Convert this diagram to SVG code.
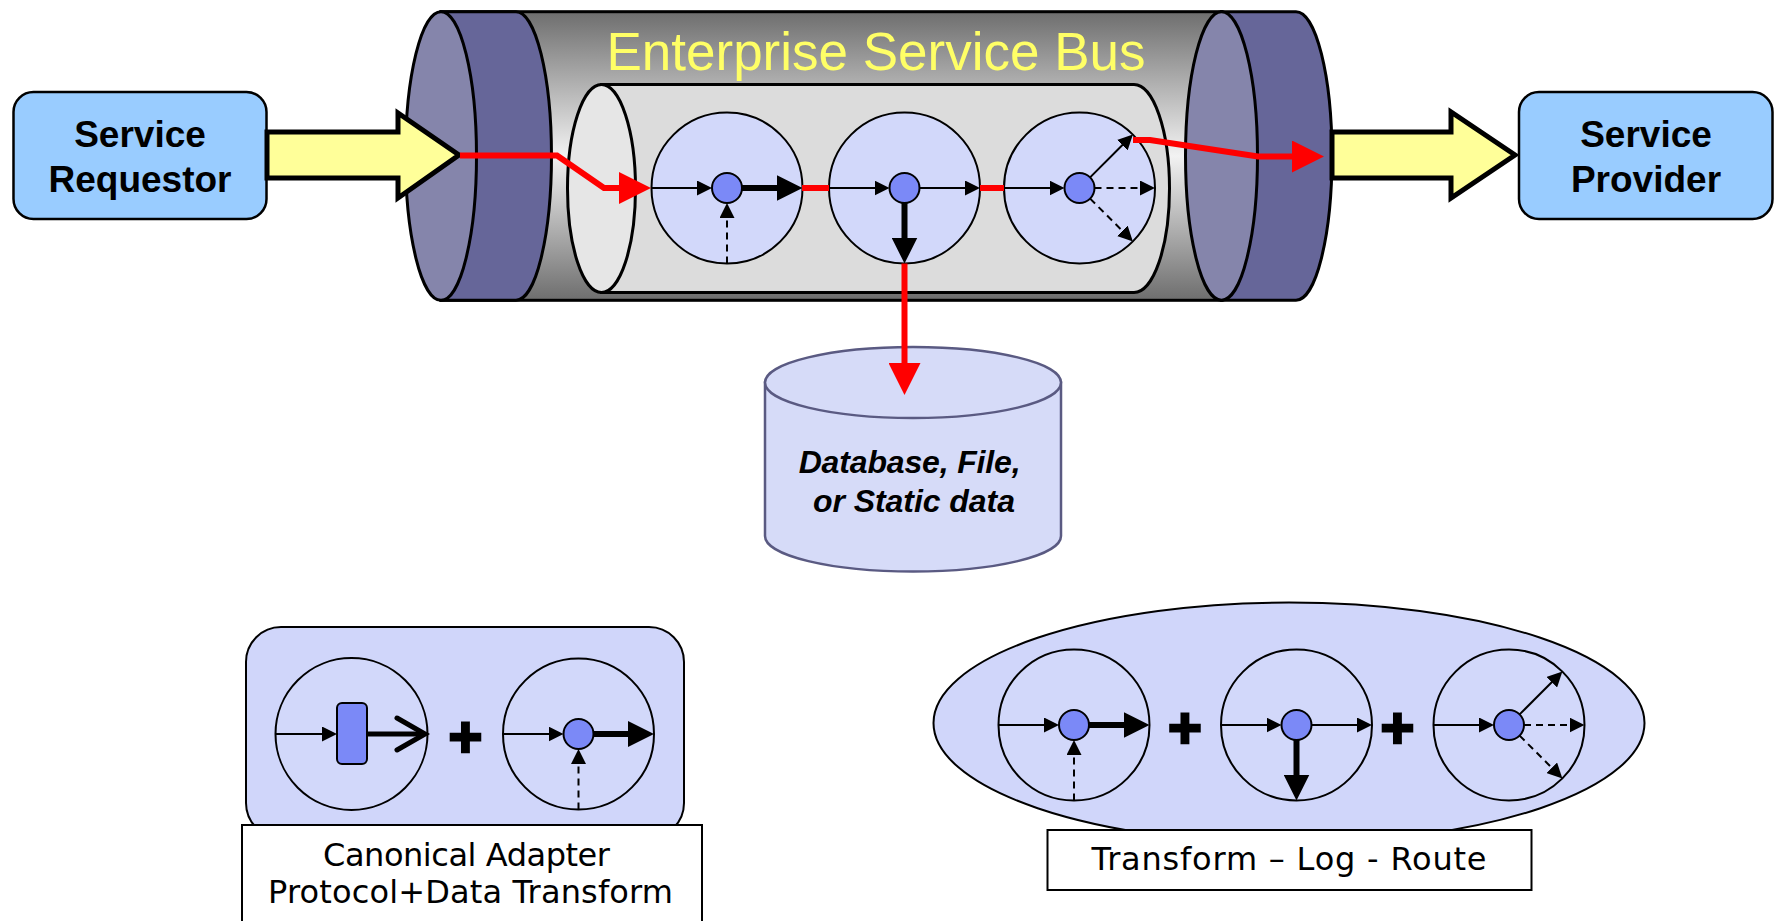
<svg xmlns="http://www.w3.org/2000/svg" width="1776" height="921" viewBox="0 0 1776 921">
  <style>
    .box { fill: #99ccff; stroke: #000; stroke-width: 2.5; }
    .boxtxt { font-family: "Liberation Sans", Arial, sans-serif; font-weight: bold; font-size: 37px; text-anchor: middle; fill: #000; }
    .op { fill: #d2d8fa; stroke: #000; stroke-width: 2; }
    .dot { fill: #7b89f7; stroke: #000; stroke-width: 2; }
    .thin { stroke: #000; stroke-width: 2; fill: none; marker-end: url(#ah); }
    .dash { stroke: #000; stroke-width: 2; fill: none; stroke-dasharray: 7 5; marker-end: url(#ah); }
    .thick { stroke: #000; stroke-width: 6; fill: none; marker-end: url(#ahBig); }
    .flow { stroke: #ff0000; stroke-width: 6; fill: none; stroke-linejoin: miter; }
    .flowEnd { marker-end: url(#ahRed); }
    .fat { fill: #ffff99; stroke: #000; stroke-width: 5; stroke-linejoin: miter; }
    .rimBand { fill: #666699; stroke: #000; stroke-width: 3; }
    .rimFace { fill: #8585ab; stroke: #000; stroke-width: 3; }
    .group { fill: #d0d6fa; stroke: #000; stroke-width: 2; }
    .label { fill: #fff; stroke: #000; stroke-width: 2; }
    .labeltxt { font-family: "DejaVu Sans", Verdana, sans-serif; font-size: 32px; text-anchor: middle; fill: #000; }
    .plus { font-family: "Liberation Sans", Arial, sans-serif; font-weight: bold; font-size: 58px; text-anchor: middle; fill: #000; stroke: #000; stroke-width: 2.5; }
  </style>
  <defs>
    <linearGradient id="busShade" x1="0" y1="0" x2="0" y2="1">
      <stop offset="0" stop-color="#6e6e6e"/>
      <stop offset="0.5" stop-color="#f2f2f2"/>
      <stop offset="1" stop-color="#6e6e6e"/>
    </linearGradient>
    <marker id="ah" viewBox="0 0 15 15" refX="2" refY="7.5" markerWidth="15" markerHeight="15" orient="auto" markerUnits="userSpaceOnUse">
      <path d="M0,0 L15,7.5 L0,15 z" fill="#000"/>
    </marker>
    <marker id="ahBig" viewBox="0 0 26 26" refX="2" refY="13" markerWidth="26" markerHeight="26" orient="auto" markerUnits="userSpaceOnUse">
      <path d="M0,0 L26,13 L0,26 z" fill="#000"/>
    </marker>
    <marker id="ahRed" viewBox="0 0 32 32" refX="3" refY="16" markerWidth="32" markerHeight="32" orient="auto" markerUnits="userSpaceOnUse">
      <path d="M0,0 L32,16 L0,32 z" fill="#ff0000"/>
    </marker>
    <!-- mediation operations, drawn around (0,0) -->
    <g id="opTransform">
      <circle class="op" r="75.5"/>
      <path class="thin" d="M-75.5,0 L-28,0"/>
      <path class="thick" d="M15,0 L51.5,0"/>
      <path class="dash" d="M0,75.5 L0,28"/>
      <circle class="dot" r="15"/>
    </g>
    <g id="opLog">
      <circle class="op" r="75.5"/>
      <path class="thin" d="M-75.5,0 L-28,0"/>
      <path class="thin" d="M15,0 L62.5,0"/>
      <path class="thick" d="M0,15 L0,51.5"/>
      <circle class="dot" r="15"/>
    </g>
    <g id="opRoute">
      <circle class="op" r="75.5"/>
      <path class="thin" d="M-75.5,0 L-28,0"/>
      <path class="thin" d="M10.6,-10.6 L44.2,-44.2"/>
      <path class="dash" d="M15,0 L62.5,0"/>
      <path class="dash" d="M10.6,10.6 L44.2,44.2"/>
      <circle class="dot" r="15"/>
    </g>
  </defs>

  <rect width="1776" height="921" fill="#fff"/>

  <!-- Enterprise Service Bus pipe -->
  <g id="esb">
    <rect x="441" y="11.7" width="781" height="288.6" fill="url(#busShade)" stroke="#000" stroke-width="3"/>
    <text x="876" y="70" font-family="'Liberation Sans', Arial, sans-serif" font-size="53" text-anchor="middle" fill="#ffff66">Enterprise Service Bus</text>
    <path d="M601.5,84.5 L1134,84.5 A35.5,104 0 0 1 1134,292.5 L601.5,292.5 Z" fill="#dcdcdc" stroke="#000" stroke-width="3"/>
    <ellipse cx="601.5" cy="188.5" rx="34" ry="104" fill="#e6e6e6" stroke="#000" stroke-width="3"/>
    <g id="esb-transform"><use href="#opTransform" x="727" y="188"/></g>
    <g id="esb-log"><use href="#opLog" x="904.5" y="188"/></g>
    <g id="esb-route"><use href="#opRoute" x="1079.5" y="188"/></g>
    <path class="rimBand" d="M441,11.7 L516,11.7 A35.5,144.3 0 0 1 516,300.3 L441,300.3 Z"/>
    <ellipse class="rimFace" cx="441" cy="156" rx="35.5" ry="144.3"/>
    <path class="rimBand" d="M1221.5,11.7 L1296,11.7 A36,144.3 0 0 1 1296,300.3 L1221.5,300.3 Z"/>
    <ellipse class="rimFace" cx="1221.5" cy="156" rx="36" ry="144.3"/>
  </g>

  <!-- data store -->
  <g id="database">
    <path d="M765,382.5 L765,536 A148,35.5 0 0 0 1061,536 L1061,382.5 Z" fill="#d6dbf8" stroke="#5a5a82" stroke-width="2.5"/>
    <ellipse cx="913" cy="382.5" rx="148" ry="35.5" fill="#d6dbf8" stroke="#5a5a82" stroke-width="2.5"/>
    <text font-family="'Liberation Sans', Arial, sans-serif" font-weight="bold" font-style="italic" font-size="32" text-anchor="middle" fill="#000">
      <tspan x="914" y="473" textLength="222">Database, File,</tspan>
      <tspan x="914" y="512" textLength="202">or Static data</tspan>
    </text>
  </g>

  <g id="requestor">
    <rect class="box" x="13.5" y="92" width="253" height="127" rx="20"/>
    <text class="boxtxt"><tspan x="140" y="146.5">Service</tspan><tspan x="140" y="191.5">Requestor</tspan></text>
  </g>

  <g id="provider">
    <rect class="box" x="1519" y="92" width="253.5" height="127" rx="20"/>
    <text class="boxtxt"><tspan x="1646" y="146.5">Service</tspan><tspan x="1646" y="191.5">Provider</tspan></text>
  </g>

  <!-- Canonical adapter pattern -->
  <g id="adapter-pattern">
    <rect class="group" x="246" y="627" width="438" height="211" rx="35"/>
    <g id="adapter-protocol">
      <circle class="op" cx="351.5" cy="734" r="76"/>
      <path class="thin" d="M275.5,734 L324,734"/>
      <path d="M367,734 L423,734" stroke="#000" stroke-width="5"/>
      <polyline points="397,718 425,734 397,750" fill="none" stroke="#000" stroke-width="5" stroke-linecap="round"/>
      <rect class="dot" x="337" y="703" width="30" height="61" rx="5"/>
    </g>
    <text class="plus" x="465.5" y="757">+</text>
    <g id="adapter-transform"><use href="#opTransform" x="578.5" y="734"/></g>
    <rect class="label" x="242" y="825" width="460" height="110"/>
    <text class="labeltxt"><tspan x="466.5" y="866" textLength="287">Canonical Adapter</tspan><tspan x="470.5" y="903" textLength="405">Protocol+Data Transform</tspan></text>
  </g>

  <!-- Transform - Log - Route pattern -->
  <g id="tlr-pattern">
    <ellipse class="group" cx="1289" cy="723" rx="355.5" ry="120.5"/>
    <g id="tlr-transform"><use href="#opTransform" x="1074" y="725"/></g>
    <text class="plus" x="1185" y="748">+</text>
    <g id="tlr-log"><use href="#opLog" x="1296.5" y="725"/></g>
    <text class="plus" x="1397.5" y="748">+</text>
    <g id="tlr-route"><use href="#opRoute" x="1509" y="725"/></g>
    <rect class="label" x="1047.5" y="830" width="484" height="60"/>
    <text class="labeltxt" x="1289" y="870" textLength="395">Transform – Log - Route</text>
  </g>

  <g id="connectors">
    <path class="fat" d="M267,132 L398,132 L398,113 L459,155 L398,198 L398,178 L267,178 Z"/>
    <path class="fat" d="M1332,132 L1451,132 L1451,112 L1515,155 L1451,198 L1451,178 L1332,178 Z"/>
    <path class="flow flowEnd" d="M460,155.5 L557,155.5 L604,188 L622,188"/>
    <path class="flow" d="M802,188 L829,188"/>
    <path class="flow" d="M980,188 L1004,188"/>
    <path class="flow flowEnd" d="M904.5,263.5 L904.5,366"/>
    <path class="flow flowEnd" d="M1133,140 L1150,140 L1258,156.5 L1295,156.5"/>
  </g>
</svg>
